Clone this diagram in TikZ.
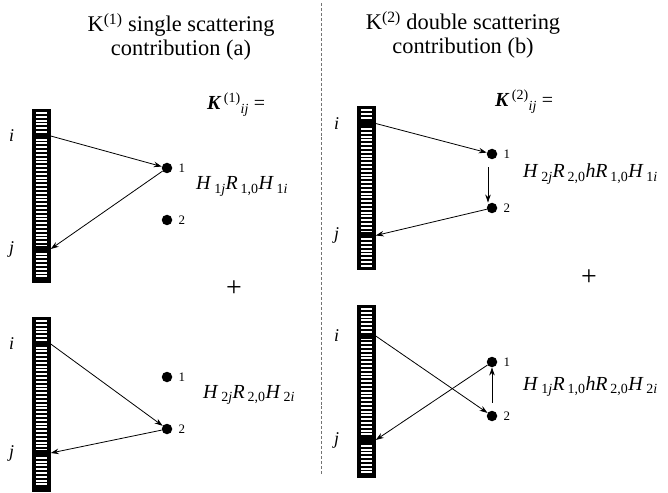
\documentclass[tikz,border=0pt]{standalone}
\usepackage{fontspec}
\setmainfont{Liberation Serif}
\usetikzlibrary{arrows.meta,positioning}
\newcommand\lowsub[1]{\textsubscript{\hspace{0.2em}#1}}
% detector strip: name, centre x, top, bottom, row i, row j
\newcommand\stripbar[6]{%
  \fill (#2-9.25,#3) rectangle (#2+9.25,#4);
  \pgfmathtruncatemacro\nslit{(#4-#3-4.2)/3.8-1}
  \foreach \k in {0,...,\nslit}
    \fill[white] (#2-5.75,#3+3+\k*3.8) rectangle (#2+5.75,#3+5+\k*3.8);
  \fill (#2-6,#5-3) rectangle (#2+6,#5+3);
  \fill (#2-6,#6-3) rectangle (#2+6,#6+3);
  \coordinate (#1i) at (#2+9.25,#5);
  \coordinate (#1j) at (#2+9.25,#6);
  \node[rowlab] (#1li) at (#2-30,#5) {i};
  \node[rowlab] (#1lj) at (#2-30,#6) {j};
}
\tikzset{
  dot/.style    = {circle, fill=black, minimum size=10.5bp, inner sep=0pt},
  num/.style    = {font=\fontsize{13}{13}\selectfont, inner sep=0pt},
  rowlab/.style = {font=\fontsize{18}{18}\selectfont\itshape, inner sep=0pt},
  ttl/.style    = {font=\fontsize{22.5}{24}\selectfont, align=center, inner sep=0pt},
  kexp/.style   = {font=\fontsize{20}{20}\selectfont, anchor=base west, inner sep=0pt},
  frm/.style    = {font=\fontsize{20}{20}\selectfont, anchor=base west, inner sep=0pt},
  plus/.style   = {font=\fontsize{28}{28}\selectfont, inner sep=0pt},
  arr/.style    = {-{Stealth[length=8bp, width=5.5bp]}, line width=0.8bp},
  sep/.style    = {densely dashed, line width=0.6bp, black!55},
}
\begin{document}
\begin{tikzpicture}[x=1bp, y=-1bp, label distance=6bp]
  \useasboundingbox (0,0) rectangle (668,493);
  \draw[sep] (321,3) -- (321,476);
  % titles
  \node[ttl] (ta) at (181,37) {K\textsuperscript{(1)} single scattering\\contribution (a)};
  \node[ttl] (tb) at (463,35) {K\textsuperscript{(2)} double scattering\\contribution (b)};
  \node[kexp] (ka) at (207,110) {\textbf{\textit{K}}\textsuperscript{\,(1)}\textsubscript{\textit{ij}} =};
  \node[kexp] (kb) at (495,107) {\textbf{\textit{K}}\textsuperscript{\,(2)}\textsubscript{\textit{ij}} =};
  % (a) upper: via point 1
  \stripbar{a}{41.5}{109}{283}{136}{249}
  \node[dot, label={[num]east:1}] (a1) at (167,168) {};
  \node[dot, label={[num]east:2}] (a2) at (167,220) {};
  \draw[arr] (ai) -- (a1);
  \draw[arr] (a1) -- (aj);
  \node[frm] (fa) at (196,190) {\textit{H}\lowsub{1\textit{j}}\textit{R}\lowsub{1,0}\textit{H}\lowsub{1\textit{i}}};
  \node[plus] (pa) at (234,289) {+};
  % (a) lower: via point 2
  \stripbar{b}{41.5}{317}{492}{344}{453}
  \node[dot, label={[num]east:1}] (b1) at (167,377) {};
  \node[dot, label={[num]east:2}] (b2) at (167,429) {};
  \draw[arr] (bi) -- (b2);
  \draw[arr] (b2) -- (bj);
  \node[frm] (fb) at (203,398) {\textit{H}\lowsub{2\textit{j}}\textit{R}\lowsub{2,0}\textit{H}\lowsub{2\textit{i}}};
  % (b) upper: 1 then 2
  \stripbar{c}{366.5}{106}{270}{123.5}{235.5}
  \node[dot, label={[num]east:1}] (c1) at (492,154) {};
  \node[dot, label={[num]east:2}] (c2) at (492,208) {};
  \draw[arr] (ci) -- (c1);
  \draw[arr, shorten <=8bp] ([xshift=-4bp]c1.south) -- ([xshift=-4bp]c2.north);
  \draw[arr] (c2) -- (cj);
  \node[frm] (fc) at (523,178) {\textit{H}\lowsub{2\textit{j}}\textit{R}\lowsub{2,0}\textit{hR}\lowsub{1,0}\textit{H}\lowsub{1\textit{i}}};
  \node[plus] (pb) at (589,278) {+};
  % (b) lower: 2 then 1
  \stripbar{d}{366.5}{305}{478}{336}{440}
  \node[dot, label={[num]east:1}] (d1) at (492,362) {};
  \node[dot, label={[num]east:2}] (d2) at (492,416) {};
  \draw[arr] (di) -- (d2);
  \draw[arr, shorten <=8bp] (d2) -- (d1);
  \draw[arr] (d1) -- (dj);
  \node[frm] (fd) at (523,390) {\textit{H}\lowsub{1\textit{j}}\textit{R}\lowsub{1,0}\textit{hR}\lowsub{2,0}\textit{H}\lowsub{2\textit{i}}};
\end{tikzpicture}
\end{document}
